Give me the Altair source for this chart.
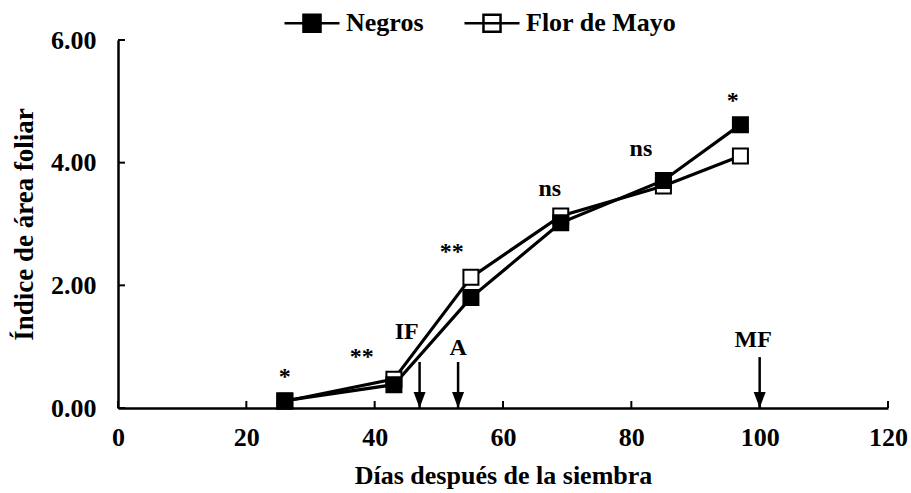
import altair as alt
import pandas as pd

# Leaf area index over days after sowing, two bean groups
dias = [26, 43, 55, 69, 85, 97]
negros = [0.12, 0.38, 1.80, 3.02, 3.71, 4.62]
flor_de_mayo = [0.11, 0.47, 2.13, 3.13, 3.62, 4.11]
series = ["Negros", "Flor de Mayo"]

# significance marks above each sampling date
sig_x = [26, 38, 52, 67.3, 81.5, 95.8]
sig_y = [0.39, 0.72, 2.43, 3.46, 4.11, 4.89]
sig_text = ["*", "**", "**", "ns", "ns", "*"]

# phenological stages (arrows on the x axis)
fase_x = [47, 53, 100]
fase_top = [0.75, 0.75, 0.83]
fase_label = ["IF", "A", "MF"]
fase_label_x = [45, 53, 99]
fase_label_y = [1.12, 0.86, 0.99]

x_ticks = [0, 20, 40, 60, 80, 100, 120]
y_ticks = [0, 2, 4, 6]

FONT = "Liberation Serif"

# Flor de Mayo rows first so the filled Negros squares are painted on top
df = pd.DataFrame(
    [{"dia": d, "valor": v, "serie": series[1]} for d, v in zip(dias, flor_de_mayo)]
    + [{"dia": d, "valor": v, "serie": series[0]} for d, v in zip(dias, negros)]
)
df_sig = pd.DataFrame({"dia": sig_x, "valor": sig_y, "txt": sig_text})
df_fase = pd.DataFrame({"dia": fase_x, "valor": fase_top, "base": [0] * len(fase_x)})
df_fase_lab = pd.DataFrame({"dia": fase_label_x, "valor": fase_label_y, "txt": fase_label})
df_xt = pd.DataFrame({"dia": x_ticks, "valor": [0] * len(x_ticks)})
df_yt = pd.DataFrame({"dia": [0] * len(y_ticks), "valor": y_ticks})

x_scale = alt.Scale(domain=[0, 120], nice=False, zero=False)
y_scale = alt.Scale(domain=[0, 6], nice=False)

x_axis = alt.Axis(
    values=x_ticks, format="d", ticks=False, grid=False,
    domainColor="black", domainWidth=2.5,
    labelFont=FONT, labelFontSize=26, labelFontWeight="bold", labelColor="black",
    labelPadding=16, labelFlush=False,
    title="Días después de la siembra", titleFont=FONT, titleFontSize=26,
    titleFontWeight="bold", titleColor="black", titlePadding=12,
)
y_axis = alt.Axis(
    values=y_ticks, format=".2f", ticks=False, grid=False,
    domainColor="black", domainWidth=2.5,
    labelFont=FONT, labelFontSize=26, labelFontWeight="bold", labelColor="black",
    labelPadding=22,
    title="Índice de área foliar", titleFont=FONT, titleFontSize=27,
    titleFontWeight="bold", titleColor="black", titlePadding=12,
)


def X(field="dia"):
    return alt.X(f"{field}:Q", scale=x_scale, axis=x_axis)


def Y(field="valor"):
    return alt.Y(f"{field}:Q", scale=y_scale, axis=y_axis)


lines = alt.Chart(df).mark_line(color="black", strokeWidth=3.2).encode(
    x=X(), y=Y(), detail="serie:N"
)

legend_symbol = "M-1,0H1M-0.31,-0.31H0.31V0.31H-0.31Z"
points = alt.Chart(df).mark_point(
    shape="square", filled=True, size=225, stroke="black", strokeWidth=2, opacity=1
).encode(
    x=X(), y=Y(),
    fill=alt.Fill(
        "serie:N",
        scale=alt.Scale(domain=series, range=["black", "white"]),
        sort=series,
        legend=alt.Legend(
            title=None, orient="none", direction="horizontal",
            legendX=165, legendY=-46, padding=0,
            symbolType=legend_symbol, symbolSize=3025,
            symbolStrokeColor="black", symbolStrokeWidth=2.5, symbolOpacity=1,
            labelFont=FONT, labelFontSize=26, labelFontWeight="bold",
            labelColor="black", labelOffset=5, columnPadding=35,
        ),
    ),
)

sig = alt.Chart(df_sig).mark_text(
    font=FONT, fontSize=24, fontWeight="bold", color="black", baseline="alphabetic"
).encode(x=X(), y=Y(), text="txt:N")

shafts = alt.Chart(df_fase).mark_rule(color="black", strokeWidth=2.5).encode(
    x=X(), y=Y(), y2="base:Q"
)

heads = alt.Chart(df_fase).mark_point(
    shape="M-0.75,-1L0.75,-1L0,1Z", filled=True, size=256, color="black",
    opacity=1, yOffset=-8,
).encode(x=X(), y=Y("base"))

fase_text = alt.Chart(df_fase_lab).mark_text(
    font=FONT, fontSize=24, fontWeight="bold", color="black", baseline="alphabetic"
).encode(x=X(), y=Y(), text="txt:N")

x_tick_marks = alt.Chart(df_xt).mark_tick(
    orient="vertical", size=7, thickness=2, color="black", opacity=1, yOffset=-3.5
).encode(x=X(), y=Y())

y_tick_marks = alt.Chart(df_yt).mark_tick(
    orient="horizontal", size=7, thickness=2, color="black", opacity=1, xOffset=3.5
).encode(x=X(), y=Y())

chart = (
    alt.layer(lines, x_tick_marks, y_tick_marks, shafts, heads, points, sig, fase_text)
    .properties(
        width=770, height=368,
        autosize=alt.AutoSizeParams(type="none"),
        padding={"left": 118, "top": 40, "right": 23, "bottom": 85},
        background="white",
    )
    .configure_view(stroke=None)
)

chart.save("out.html", embed_options={"renderer": "svg", "actions": False})
